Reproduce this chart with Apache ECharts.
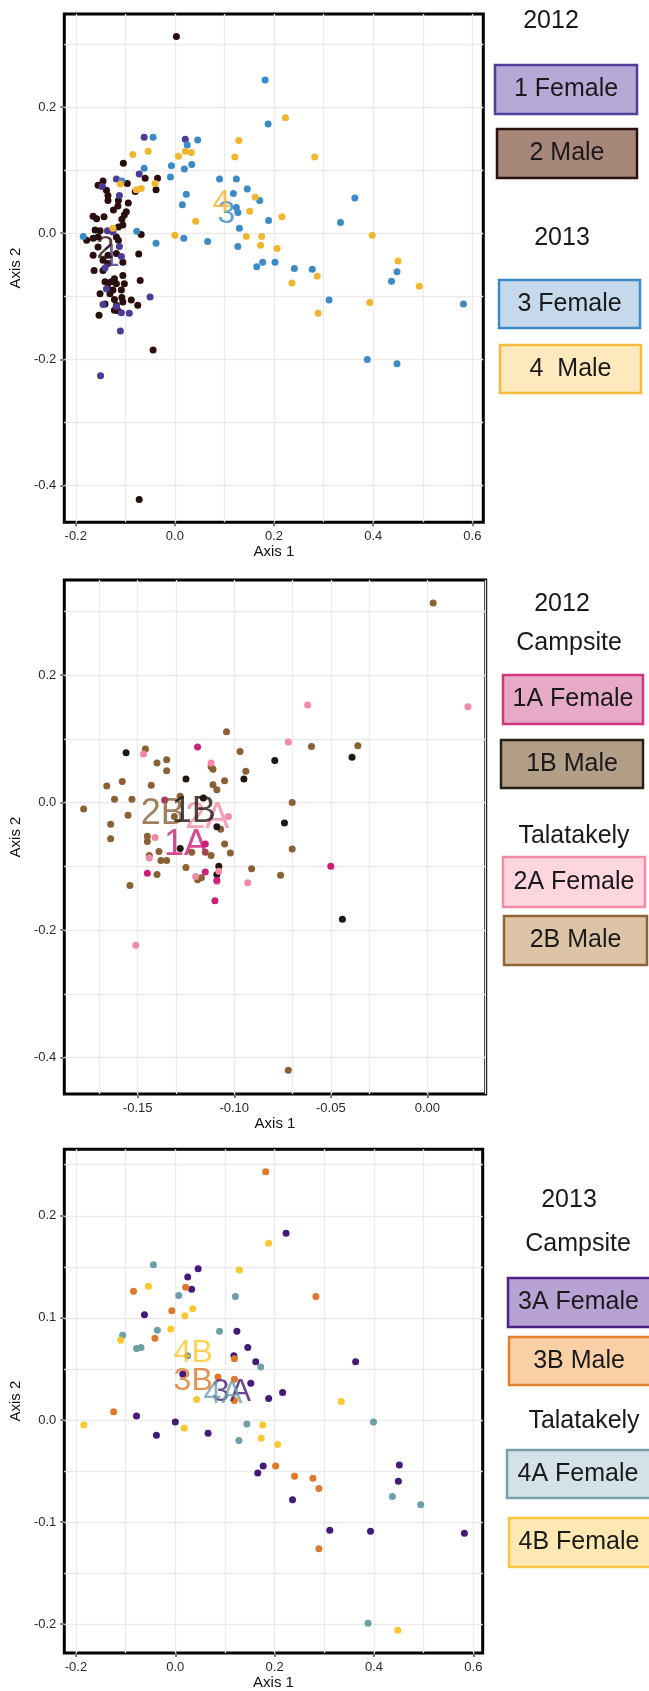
<!DOCTYPE html>
<html>
<head>
<meta charset="utf-8">
<script src="https://cdn.jsdelivr.net/npm/echarts@6/dist/echarts.min.js"></script>
<style>
  html, body { margin: 0; padding: 0; background: #fff; }
  #chart { width: 649px; height: 1691px; }
</style>
</head>
<body>
<div id="chart"></div>
<script>
// ---------- Panel 1: 2012 vs 2013, by sex ----------
const p1Female2012 = [[-0.062,0.152],[0.021,0.149],[-0.072,0.094],[-0.118,0.086],[-0.112,0.060],[-0.147,0.074],[-0.125,0.002],[-0.112,-0.021],[-0.108,-0.037],[-0.050,-0.101],[-0.138,-0.088],[-0.145,-0.113],[-0.118,-0.116],[-0.108,-0.126],[-0.092,-0.127],[-0.110,-0.155],[-0.150,-0.226],[-0.136,0.004],[-0.141,-0.055]];
const p1Male2012 = [[0.003,0.312],[-0.104,0.111],[-0.155,0.076],[-0.145,0.083],[-0.147,0.075],[-0.138,0.068],[-0.135,0.060],[-0.096,0.079],[-0.080,0.066],[-0.060,0.087],[-0.035,0.087],[-0.038,0.069],[-0.135,0.052],[-0.114,0.052],[-0.115,0.043],[-0.094,0.048],[-0.124,0.037],[-0.098,0.034],[-0.102,0.029],[-0.107,0.022],[-0.165,0.027],[-0.158,0.023],[-0.143,0.026],[-0.114,0.010],[-0.105,0.013],[-0.161,0.005],[-0.151,0.004],[-0.178,-0.011],[-0.165,-0.008],[-0.155,-0.006],[-0.155,-0.022],[-0.118,-0.006],[-0.114,-0.011],[-0.068,-0.002],[-0.073,-0.033],[-0.135,-0.035],[-0.118,-0.032],[-0.165,-0.035],[-0.105,-0.046],[-0.135,-0.048],[-0.145,-0.043],[-0.163,-0.059],[-0.145,-0.059],[-0.105,-0.067],[-0.122,-0.072],[-0.070,-0.075],[-0.141,-0.077],[-0.135,-0.079],[-0.128,-0.077],[-0.118,-0.080],[-0.102,-0.080],[-0.135,-0.088],[-0.125,-0.090],[-0.108,-0.090],[-0.151,-0.096],[-0.131,-0.096],[-0.122,-0.105],[-0.107,-0.102],[-0.088,-0.106],[-0.141,-0.112],[-0.118,-0.114],[-0.105,-0.109],[-0.075,-0.114],[-0.122,-0.122],[-0.115,-0.123],[-0.153,-0.130],[-0.044,-0.185],[-0.072,-0.422]];
const p1Female2013 = [[0.182,0.243],[0.188,0.173],[-0.044,0.152],[0.025,0.140],[0.046,0.148],[0.034,0.109],[-0.007,0.107],[0.019,0.102],[-0.062,0.103],[-0.009,0.089],[-0.107,0.083],[0.090,0.086],[0.124,0.086],[0.146,0.070],[0.023,0.062],[0.118,0.063],[0.171,0.052],[0.015,0.045],[0.363,0.056],[0.124,0.041],[0.127,0.033],[0.189,0.020],[0.334,0.017],[0.130,0.008],[-0.077,0.003],[-0.185,-0.005],[0.018,-0.008],[0.066,-0.013],[-0.038,-0.016],[0.127,-0.021],[0.165,-0.053],[0.177,-0.046],[0.202,-0.046],[0.241,-0.056],[0.277,-0.057],[0.448,-0.061],[0.437,-0.076],[0.311,-0.106],[0.582,-0.112],[0.388,-0.200],[0.448,-0.207]];
const p1Male2013 = [[0.223,0.183],[0.129,0.147],[0.282,0.121],[0.121,0.121],[-0.085,0.125],[-0.054,0.130],[0.007,0.122],[0.021,0.130],[0.033,0.128],[-0.110,0.078],[-0.078,0.069],[-0.068,0.071],[-0.040,0.079],[0.162,0.057],[0.151,0.035],[0.216,0.026],[0.042,0.019],[-0.125,0.008],[0.000,-0.003],[0.144,-0.005],[0.175,-0.005],[0.173,-0.019],[0.206,-0.024],[0.398,-0.003],[0.450,-0.044],[0.287,-0.068],[0.236,-0.079],[0.493,-0.084],[0.393,-0.110],[0.289,-0.127]];
const p1Groups = ['1', '2', '3', '4'];
const p1Centroids = [[-0.129,-0.038],[-0.140,-0.026],[0.104,0.031],[0.094,0.047]];
const p1XTicks = [-0.2, 0, 0.2, 0.4, 0.6];
const p1YTicks = [-0.4, -0.2, 0, 0.2];
const p1XMinor = [-0.1, 0.1, 0.3, 0.5];
const p1YMinor = [-0.3, -0.1, 0.1, 0.3];
const p1Legend = ['1 Female', '2 Male', '3 Female', '4  Male'];
const p1Headers = ['2012', '2013'];

// ---------- Panel 2: 2012, by site and sex ----------
const p2CampFemale = [[-0.119,0.087],[-0.136,0.004],[-0.115,-0.065],[-0.145,-0.111],[-0.115,-0.109],[-0.109,-0.122],[-0.110,-0.154],[-0.050,-0.100]];
const p2CampMale = [[-0.156,0.078],[-0.079,0.066],[-0.039,0.071],[-0.125,0.037],[-0.095,0.037],[-0.116,0.007],[-0.074,-0.032],[-0.109,-0.038],[-0.128,-0.072],[-0.108,-0.100],[-0.109,-0.113],[-0.044,-0.183]];
const p2TalaFemale = [[-0.062,0.153],[0.021,0.150],[-0.072,0.095],[-0.147,0.076],[-0.112,0.062],[-0.103,-0.022],[-0.141,-0.055],[-0.144,-0.087],[-0.120,-0.116],[-0.093,-0.126],[-0.109,-0.124],[-0.108,-0.108],[-0.151,-0.224]];
const p2TalaMale = [[0.003,0.313],[-0.104,0.111],[-0.097,0.080],[-0.060,0.088],[-0.036,0.089],[-0.146,0.084],[-0.140,0.062],[-0.135,0.067],[-0.135,0.050],[-0.112,0.056],[-0.111,0.052],[-0.094,0.049],[-0.166,0.026],[-0.158,0.033],[-0.143,0.027],[-0.111,0.028],[-0.109,0.020],[-0.105,0.034],[-0.162,0.005],[-0.153,0.005],[-0.128,0.010],[-0.178,-0.010],[-0.155,-0.020],[-0.164,-0.034],[-0.164,-0.057],[-0.070,0.000],[-0.070,-0.073],[-0.145,-0.053],[-0.145,-0.061],[-0.144,-0.083],[-0.139,-0.077],[-0.105,-0.065],[-0.102,-0.079],[-0.112,-0.083],[-0.115,-0.078],[-0.122,-0.078],[-0.107,-0.042],[-0.131,-0.022],[-0.138,-0.091],[-0.135,-0.091],[-0.125,-0.102],[-0.140,-0.113],[-0.154,-0.130],[-0.091,-0.104],[-0.076,-0.114],[-0.119,-0.121],[-0.117,-0.118],[-0.072,-0.420]];
const p2Groups = ['1A', '1B', '2A', '2B'];
const p2Centroids = [[-0.125,-0.066],[-0.121,-0.015],[-0.114,-0.024],[-0.137,-0.018]];
const p2XTicks = [-0.15, -0.10, -0.05, 0];
const p2YTicks = [-0.4, -0.2, 0, 0.2];
const p2XMinor = [-0.175, -0.125, -0.075, -0.025, 0.025];
const p2YMinor = [-0.3, -0.1, 0.1, 0.3];
const p2Legend = ['1A Female', '1B Male', '2A Female', '2B Male'];
const p2Headers = ['2012', 'Campsite', 'Talatakely'];

// ---------- Panel 3: 2013, by site and sex ----------
const p3CampFemale = [[0.223,0.183],[0.046,0.148],[0.025,0.140],[0.033,0.128],[-0.062,0.103],[0.124,0.087],[0.146,0.071],[0.118,0.063],[0.162,0.057],[0.363,0.057],[0.152,0.036],[0.216,0.027],[0.188,0.021],[0.015,0.045],[-0.078,0.004],[0.000,-0.002],[-0.038,-0.015],[0.066,-0.013],[0.451,-0.044],[0.449,-0.060],[0.177,-0.045],[0.166,-0.052],[0.236,-0.078],[0.311,-0.108],[0.393,-0.109],[0.582,-0.111]];
const p3CampMale = [[0.182,0.243],[0.283,0.121],[-0.084,0.126],[0.021,0.130],[-0.007,0.107],[-0.041,0.080],[-0.124,0.008],[0.119,0.060],[0.086,0.042],[0.119,0.040],[0.119,0.019],[0.202,-0.045],[0.240,-0.055],[0.277,-0.057],[0.289,-0.067],[0.289,-0.126]];
const p3TalaFemaleA = [[-0.044,0.152],[0.007,0.122],[0.121,0.121],[-0.106,0.083],[-0.036,0.088],[0.089,0.087],[-0.078,0.070],[-0.069,0.071],[0.025,0.063],[0.172,0.052],[0.144,-0.004],[0.128,-0.020],[0.399,-0.002],[0.437,-0.075],[0.494,-0.083],[0.388,-0.199]];
const p3TalaFemaleB = [[0.188,0.173],[0.129,0.147],[-0.054,0.131],[0.035,0.109],[0.019,0.102],[-0.009,0.089],[-0.110,0.078],[0.043,0.020],[0.334,0.018],[-0.184,-0.005],[0.018,-0.008],[0.176,-0.005],[0.173,-0.018],[0.206,-0.024],[0.448,-0.206]];
const p3Groups = ['3A', '3B', '4A', '4B'];
const p3Centroids = [[0.113,0.027],[0.036,0.038],[0.096,0.025],[0.036,0.065]];
const p3XTicks = [-0.2, 0, 0.2, 0.4, 0.6];
const p3YTicks = [-0.2, -0.1, 0, 0.1, 0.2];
const p3XMinor = [-0.1, 0.1, 0.3, 0.5];
const p3YMinor = [-0.15, -0.05, 0.05, 0.15, 0.25];
const p3Legend = ['3A Female', '3B Male', '4A Female', '4B Female'];
const p3Headers = ['2013', 'Campsite', 'Talatakely'];

// ---------- styling ----------
const FONT = '"Liberation Sans", Arial, sans-serif';
const GRID_LINE = { color: '#ebebeb', width: 1.3, type: 'solid' };

const panels = [
  {
    rect: { left: 59, top: 14, width: 424.3, height: 508.3 },
    xRange: [-0.2231, 0.6221], yRange: [-0.4583, 0.3476],
    xTicks: p1XTicks, yTicks: p1YTicks, xMinor: p1XMinor, yMinor: p1YMinor,
    xDec: 1, yDec: 1, xNameGap: 21, yNameGap: 33,
    series: [p1Male2012, p1Female2012, p1Female2013, p1Male2013],
    colors: ['#2a0e0b', '#4b3a96', '#3a8bc6', '#f2b62e'],
    groups: p1Groups, centroids: p1Centroids,
    labelColors: ['#4b3a96', '#2a0e0b', '#3a8bc6', '#f2b62e'],
    labelOrder: [0, 2, 1, 3], labelSize: 32
  },
  {
    rect: { left: 59, top: 580, width: 426.7, height: 514 },
    xRange: [-0.188, 0.0302], yRange: [-0.4572, 0.349],
    xTicks: p2XTicks, yTicks: p2YTicks, xMinor: p2XMinor, yMinor: p2YMinor,
    xDec: 2, yDec: 1, xNameGap: 22, yNameGap: 33,
    series: [p2TalaMale, p2CampMale, p2TalaFemale, p2CampFemale],
    colors: ['#8a6035', '#221610', '#f389a4', '#cc1f78'],
    groups: p2Groups, centroids: p2Centroids,
    labelColors: ['#cc1f78', '#221610', '#f389a4', '#8a6035'],
    labelOrder: [2, 0, 3, 1], labelSize: 36
  },
  {
    rect: { left: 62.3, top: 1149.3, width: 420.4, height: 505.7 },
    xRange: [-0.2234, 0.6188], yRange: [-0.2283, 0.2651],
    xTicks: p3XTicks, yTicks: p3YTicks, xMinor: p3XMinor, yMinor: p3YMinor,
    xDec: 1, yDec: 1, xNameGap: 21, yNameGap: 34,
    series: [p3CampFemale, p3CampMale, p3TalaFemaleA, p3TalaFemaleB],
    colors: ['#45197a', '#e0782a', '#6d9fa8', '#fec72c'],
    groups: p3Groups, centroids: p3Centroids,
    labelColors: ['#45197a', '#e0782a', '#6d9fa8', '#fec72c'],
    labelOrder: [0, 2, 1, 3], labelSize: 32
  }
];

function fmt(v, d) {
  return (Math.abs(v) < 1e-9 ? 0 : v).toFixed(d);
}

const grid = [], xAxis = [], yAxis = [], series = [];
panels.forEach((p, i) => {
  grid.push(Object.assign({ show: true, borderColor: '#000', borderWidth: 3, backgroundColor: '#fff', containLabel: false }, p.rect));
  xAxis.push({
    type: 'value', gridIndex: i, min: p.xRange[0], max: p.xRange[1], position: 'bottom',
    axisLine: { show: false, onZero: false },
    axisTick: { show: true, customValues: p.xTicks, length: 4, lineStyle: { color: '#7a7a7a', width: 2 } },
    axisLabel: { customValues: p.xTicks, formatter: v => fmt(v, p.xDec), color: '#2b2b2b', fontSize: 13, margin: 8, fontFamily: FONT },
    splitLine: { show: true, lineStyle: GRID_LINE },
    minorTick: { show: false }, minorSplitLine: { show: false },
    name: 'Axis 1', nameLocation: 'middle', nameGap: p.xNameGap,
    nameTextStyle: { fontSize: 15, color: '#111', fontFamily: FONT }
  });
  yAxis.push({
    type: 'value', gridIndex: i, min: p.yRange[0], max: p.yRange[1], position: 'left',
    axisLine: { show: false, onZero: false },
    axisTick: { show: true, customValues: p.yTicks, length: 4, lineStyle: { color: '#7a7a7a', width: 2 } },
    axisLabel: { customValues: p.yTicks, formatter: v => fmt(v, p.yDec), color: '#2b2b2b', fontSize: 13, margin: 8, fontFamily: FONT },
    splitLine: { show: true, lineStyle: GRID_LINE },
    minorTick: { show: false }, minorSplitLine: { show: false },
    name: 'Axis 2', nameLocation: 'middle', nameGap: p.yNameGap,
    nameTextStyle: { fontSize: 15, color: '#111', fontFamily: FONT }
  });

  // in-between grid lines, kept beneath the points
  series.push({
    type: 'scatter', xAxisIndex: i, yAxisIndex: i, data: [], silent: true, z: 1,
    markLine: {
      z: 1, silent: true, symbol: ['none', 'none'], animation: false,
      label: { show: false }, lineStyle: GRID_LINE,
      emphasis: { disabled: true },
      data: p.xMinor.map(v => ({ xAxis: v })).concat(p.yMinor.map(v => ({ yAxis: v })))
    }
  });

  p.series.forEach((d, k) => {
    series.push({
      type: 'scatter', xAxisIndex: i, yAxisIndex: i, data: d,
      symbolSize: 7, itemStyle: { color: p.colors[k], opacity: 1 }, silent: true, z: 3
    });
  });
  // group labels at their centroids
  p.labelOrder.forEach(k => {
    series.push({
      type: 'scatter', xAxisIndex: i, yAxisIndex: i,
      data: [{ name: p.groups[k], value: p.centroids[k] }],
      symbolSize: 1, itemStyle: { color: 'rgba(0,0,0,0)' }, silent: true, z: 4,
      label: {
        show: true, position: 'inside', formatter: '{b}', color: p.labelColors[k],
        fontSize: p.labelSize, fontFamily: FONT, align: 'center', verticalAlign: 'middle'
      }
    });
  });
});

// ---------- legend boxes ----------
const legendFills = [
  ['#b6a9d8', '#a6877a', '#c6d8ec', '#fde9bd'],
  ['#e6a9c6', '#b39e88', '#fdd6e0', '#dec4a6'],
  ['#b8a1d3', '#f9cfa6', '#d4e2e7', '#fde8b3']
];
const legendStrokes = [
  ['#4f3f9b', '#2b130f', '#3f8ac6', '#f2bb3c'],
  ['#d1357c', '#2b2018', '#f28da6', '#8e6538'],
  ['#4b2286', '#e0802c', '#76a0aa', '#f8c73f']
];
const legendBoxes = [
  [[495, 65, 142, 49], [497, 129, 140, 49], [499, 280, 141, 48], [500, 345, 141, 48]],
  [[503, 675, 140, 49], [501, 740, 142, 48], [503, 857, 142, 50], [504, 916, 143, 49]],
  [[508, 1278, 146, 49], [509, 1337, 145, 48], [507, 1450, 147, 48], [509, 1518, 145, 49]]
];
const headerPos = [
  [[551, 21], [562, 238]],
  [[562, 604], [569, 643], [574, 836]],
  [[569, 1200], [578, 1244], [584, 1421]]
];
const legendTexts = [p1Legend, p2Legend, p3Legend];
const headerTexts = [p1Headers, p2Headers, p3Headers];

const graphic = [];
legendTexts.forEach((labels, i) => {
  labels.forEach((t, k) => {
    const [x, y, w, h] = legendBoxes[i][k];
    const visibleRight = Math.min(x + w, 649);
    graphic.push({
      type: 'rect', shape: { x, y, width: w, height: h }, silent: true,
      style: { fill: legendFills[i][k], stroke: legendStrokes[i][k], lineWidth: 2.5 }
    });
    graphic.push({
      type: 'text', x: (x + visibleRight) / 2, y: y + h / 2, silent: true,
      style: { text: t, fill: '#1a1a1a', font: '25px ' + FONT, align: 'center', verticalAlign: 'middle' }
    });
  });
  headerTexts[i].forEach((t, k) => {
    const [x, y] = headerPos[i][k];
    graphic.push({
      type: 'text', x, y, silent: true,
      style: { text: t, fill: '#1a1a1a', font: '25px ' + FONT, align: 'center', verticalAlign: 'middle' }
    });
  });
});

const chart = echarts.init(document.getElementById('chart'), null, { renderer: 'canvas' });
chart.setOption({
  animation: false,
  backgroundColor: '#fff',
  grid, xAxis, yAxis, series, graphic
});
</script>
</body>
</html>
